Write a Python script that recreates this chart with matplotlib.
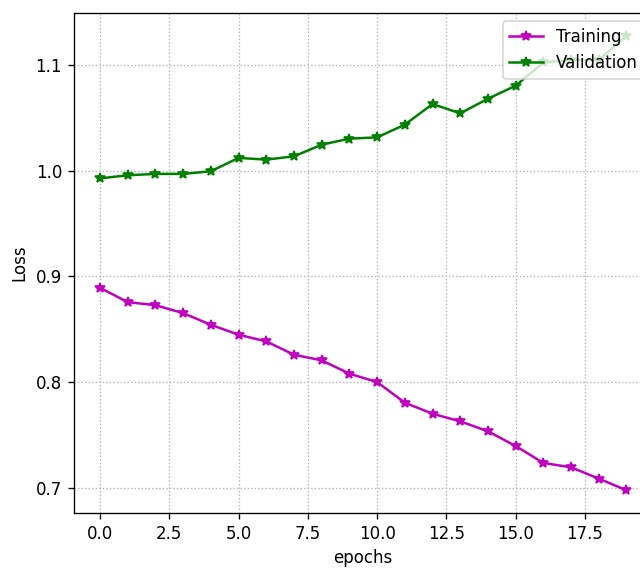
import matplotlib
matplotlib.use("Agg")
import matplotlib.pyplot as plt
import numpy as np

epochs = list(range(20))
training = [0.8893, 0.8758, 0.8729, 0.8654, 0.8544, 0.8450, 0.8387, 0.8261, 0.8208, 0.8082,
            0.8003, 0.7808, 0.7704, 0.7632, 0.7538, 0.7399, 0.7239, 0.7198, 0.7091, 0.6981]
validation = [0.9927, 0.9956, 0.9969, 0.9969, 0.9994, 1.0120, 1.0104, 1.0135, 1.0245, 1.0302,
              1.0314, 1.0434, 1.0629, 1.0541, 1.0679, 1.0802, 1.1022, 1.1044, 1.1044, 1.1274]

DPI = 120
fig = plt.figure(figsize=(640 / DPI, 569 / DPI), dpi=DPI)
ax = fig.add_axes([73.7 / 640, 56 / 569, (652.8 - 73.7) / 640, 500 / 569])
ax.plot(epochs, training, color='m', marker='*', label='Training')
ax.plot(epochs, validation, color='g', marker='*', label='Validation')
ax.grid(True, linestyle=':')
ax.set_xlabel('epochs')
ax.set_ylabel('Loss')
ax.legend(loc='upper right')
fig.savefig('out.png', dpi=DPI)
